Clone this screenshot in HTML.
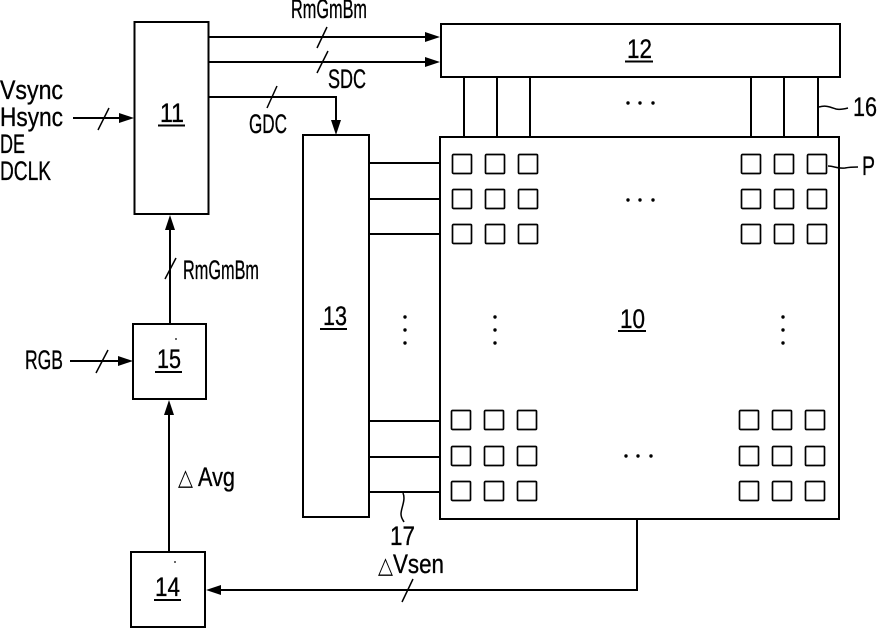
<!DOCTYPE html>
<html>
<head>
<meta charset="utf-8">
<style>
html,body{margin:0;padding:0;background:#fff;width:877px;height:628px;overflow:hidden}
svg{display:block}
text{font-family:"Liberation Sans",sans-serif;font-size:27px;fill:#000;stroke:#000;stroke-width:.35px}
.b{fill:#fff;stroke:#000;stroke-width:2}
.l{fill:none;stroke:#000;stroke-width:2}
.t{fill:none;stroke:#000;stroke-width:1.500}
.s{fill:#fff;stroke:#000;stroke-width:1.700}
</style>
</head>
<body>
<svg width="877" height="628" viewBox="0 0 877 628" xmlns="http://www.w3.org/2000/svg">
<defs>
<g id="cells">
<rect class="s" x="0.500" y="0.500" width="19" height="19" rx="1"/>
<rect class="s" x="33.500" y="0.500" width="19" height="19" rx="1"/>
<rect class="s" x="66.500" y="0.500" width="19" height="19" rx="1"/>
</g>
</defs>

<!-- connectors -->
<path class="l" d="M209 37H428M209 62H428M208 97H336V123"/>
<path class="l" d="M73 118H122M70 361H121M170 324V226M169 552V411"/>
<path class="l" d="M637 519V590H219"/>
<path class="l" d="M464 77V137M497 77V137M530 77V137M751 77V137M784 77V137M818 77V137"/>
<path class="l" d="M369 163H440M369 199H440M369 234H440M369 421H440M369 457H440M369 492H440"/>

<!-- arrowheads -->
<path d="M440 37L425 32V42ZM440 62L425 57V67ZM336 135L331 120H341ZM134 118L119 113V123ZM133 361L118 356V366ZM170 215L165 230H175ZM169 400L164 415H174ZM206 590L221 585V595Z"/>

<!-- boxes -->
<rect class="b" x="134.500" y="22" width="74" height="192"/>
<rect class="b" x="441" y="24" width="399" height="53"/>
<rect class="b" x="440" y="137" width="399" height="382"/>
<rect class="b" x="303" y="135" width="66" height="382"/>
<rect class="b" x="133" y="324" width="73" height="75"/>
<rect class="b" x="131" y="552" width="74" height="75"/>

<!-- cells -->
<use href="#cells" x="452" y="154"/><use href="#cells" x="452" y="189"/><use href="#cells" x="452" y="224"/>
<use href="#cells" x="741" y="154"/><use href="#cells" x="741" y="189"/><use href="#cells" x="741" y="224"/>
<use href="#cells" x="451" y="410"/><use href="#cells" x="451" y="446"/><use href="#cells" x="451" y="481"/>
<use href="#cells" x="739" y="410"/><use href="#cells" x="739" y="446"/><use href="#cells" x="739" y="481"/>

<!-- bus slashes -->
<path class="t" d="M317 48L327 27M317 73L328 51M267 108L277 86M98 130L109 108M165 279L176 258M96 373L108 350M402 602L413 579"/>

<!-- leaders -->
<path class="t" d="M819 107C826 105 830 107 836 109C840 110 844 109 848 108"/>
<path class="t" d="M828 166C834 166 838 169 845 168C850 167 854 167 858 167"/>
<path class="t" d="M403 493C406 500 401 508 401 514C401 518 403 520 404 522"/>

<!-- ellipsis dots -->
<g>
<circle cx="628" cy="103" r="1.700"/><circle cx="640" cy="103" r="1.700"/><circle cx="653" cy="103" r="1.700"/>
<circle cx="628" cy="200" r="1.700"/><circle cx="640" cy="200" r="1.700"/><circle cx="653" cy="200" r="1.700"/>
<circle cx="626" cy="456" r="1.700"/><circle cx="638" cy="456" r="1.700"/><circle cx="651" cy="456" r="1.700"/>
<circle cx="405" cy="317" r="1.700"/><circle cx="405" cy="330" r="1.700"/><circle cx="405" cy="343" r="1.700"/>
<circle cx="495" cy="317" r="1.700"/><circle cx="495" cy="330" r="1.700"/><circle cx="495" cy="343" r="1.700"/>
<circle cx="783" cy="317" r="1.700"/><circle cx="783" cy="330" r="1.700"/><circle cx="783" cy="343" r="1.700"/>
<circle cx="176" cy="339" r="0.900"/><circle cx="175" cy="562" r="0.900"/>
</g>

<!-- labels -->
<g>
<text x="291" y="18" textLength="76" lengthAdjust="spacingAndGlyphs">RmGmBm</text>
<text x="328" y="88" textLength="38" lengthAdjust="spacingAndGlyphs">SDC</text>
<text x="249" y="133" textLength="38" lengthAdjust="spacingAndGlyphs">GDC</text>
<text x="0" y="99" textLength="63" lengthAdjust="spacingAndGlyphs">Vsync</text>
<text x="0" y="126" textLength="63" lengthAdjust="spacingAndGlyphs">Hsync</text>
<text x="0" y="153" textLength="25" lengthAdjust="spacingAndGlyphs">DE</text>
<text x="0" y="180" textLength="51" lengthAdjust="spacingAndGlyphs">DCLK</text>
<text x="25" y="369" textLength="38" lengthAdjust="spacingAndGlyphs">RGB</text>
<text x="183" y="279" textLength="76" lengthAdjust="spacingAndGlyphs">RmGmBm</text>
<text x="178" y="485" textLength="15" lengthAdjust="spacingAndGlyphs" style="font-size:23px;stroke-width:0">△</text>
<text x="198" y="486" textLength="37" lengthAdjust="spacingAndGlyphs">Avg</text>
<text x="390" y="545" textLength="25" lengthAdjust="spacingAndGlyphs">17</text>
<text x="378" y="573" textLength="15" lengthAdjust="spacingAndGlyphs" style="font-size:23px;stroke-width:0">△</text>
<text x="393" y="573" textLength="51" lengthAdjust="spacingAndGlyphs">Vsen</text>
<text x="853" y="116" textLength="24" lengthAdjust="spacingAndGlyphs">16</text>
<text x="862" y="175" textLength="13" lengthAdjust="spacingAndGlyphs">P</text>
<text x="160" y="122" textLength="24" lengthAdjust="spacingAndGlyphs">11</text>
<text x="627" y="58" textLength="25" lengthAdjust="spacingAndGlyphs">12</text>
<text x="323" y="325" textLength="24" lengthAdjust="spacingAndGlyphs">13</text>
<text x="157" y="368" textLength="24" lengthAdjust="spacingAndGlyphs">15</text>
<text x="155" y="596" textLength="25" lengthAdjust="spacingAndGlyphs">14</text>
<text x="620" y="328" textLength="25" lengthAdjust="spacingAndGlyphs">10</text>
</g>

<!-- reference number underlines -->
<path class="l" d="M158 125.500H185M625 61.500H653M320 329H347M155 372H182M154 600H181M618 331H646"/>
</svg>
</body>
</html>
